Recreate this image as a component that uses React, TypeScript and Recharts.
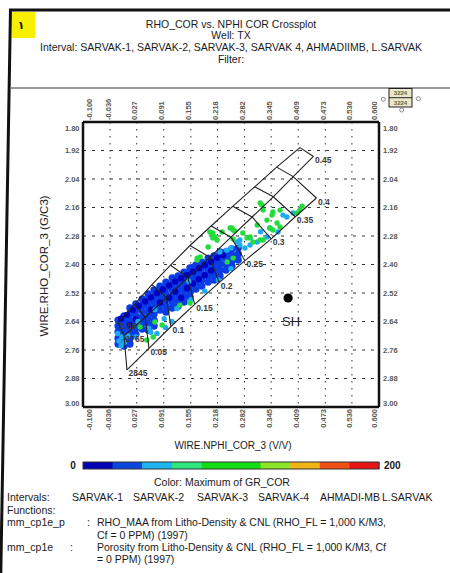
import React from 'react';
import { ScatterChart, Scatter, XAxis, YAxis, CartesianGrid } from 'recharts';

const FONT = "'Liberation Sans', Arial, Helvetica, sans-serif";

// axis ticks (NPHI in V/V, RHOB in G/C3)
const X_TICKS = [-0.1, -0.036, 0.027, 0.091, 0.155, 0.218, 0.282, 0.345, 0.409, 0.473, 0.536, 0.6];
const Y_TICKS = [1.8, 1.92, 2.04, 2.16, 2.28, 2.4, 2.52, 2.64, 2.76, 2.88, 3.0];

// density-neutron chart overlay (mm_cp1e)
const PORO_LABELS = ['0', '0.05', '0.1', '0.15', '0.2', '0.25', '0.3', '0.35', '0.4', '0.45'];
const SS_NPHI = [-0.017, 0.022, 0.063, 0.107, 0.153, 0.203, 0.254, 0.306, 0.358, 0.413];
const SS_RHOB = [2.645, 2.568, 2.485, 2.403, 2.32, 2.238, 2.155, 2.073, 1.99, 1.908];
const LS_NPHI = [-0.003, 0.047, 0.097, 0.148, 0.2, 0.25, 0.3, 0.35, 0.397, 0.445];
const LS_RHOB = [2.7, 2.622, 2.54, 2.455, 2.37, 2.285, 2.2, 2.115, 2.03, 1.945];
const DOL_NPHI = [0.004, 0.056, 0.108, 0.164, 0.222, 0.283, 0.345, 0.402, 0.452];
const DOL_RHOB = [2.844, 2.753, 2.661, 2.568, 2.476, 2.384, 2.292, 2.199, 2.12];
const MATRIX_LABELS = ['2.65', '2765', '2845'];

// crossplot points, grouped by GR colour bin
const BLUE_PTS: [number, number][] = [
  [-0.017, 2.634], [-0.017, 2.659], [-0.017, 2.684], [-0.017, 2.71], [-0.017, 2.735],
  [-0.003, 2.617], [-0.003, 2.642], [-0.003, 2.667], [-0.003, 2.693], [-0.003, 2.718], [-0.003, 2.743],
  [0.011, 2.583], [0.011, 2.608], [0.011, 2.634], [0.011, 2.659], [0.011, 2.684], [0.011, 2.71], [0.011, 2.735],
  [0.025, 2.566], [0.025, 2.592], [0.025, 2.617], [0.025, 2.642], [0.025, 2.667], [0.025, 2.693],
  [0.04, 2.545], [0.04, 2.571], [0.04, 2.596], [0.04, 2.621], [0.04, 2.646], [0.04, 2.672],
  [0.054, 2.524], [0.054, 2.549], [0.054, 2.575], [0.054, 2.6], [0.054, 2.625], [0.054, 2.651], [0.054, 2.676],
  [0.068, 2.507], [0.068, 2.533], [0.068, 2.558], [0.068, 2.583], [0.068, 2.608], [0.068, 2.634], [0.068, 2.659],
  [0.082, 2.491], [0.082, 2.516], [0.082, 2.541], [0.082, 2.566], [0.082, 2.592],
  [0.096, 2.474], [0.096, 2.499], [0.096, 2.524], [0.096, 2.549], [0.096, 2.575], [0.096, 2.6],
  [0.111, 2.457], [0.111, 2.482], [0.111, 2.507], [0.111, 2.533], [0.111, 2.558], [0.111, 2.583],
  [0.125, 2.448], [0.125, 2.474], [0.125, 2.499], [0.125, 2.524], [0.125, 2.549], [0.125, 2.575],
  [0.139, 2.432], [0.139, 2.457], [0.139, 2.482], [0.139, 2.507], [0.139, 2.533], [0.139, 2.558],
  [0.153, 2.415], [0.153, 2.44], [0.153, 2.465], [0.153, 2.491], [0.153, 2.516], [0.153, 2.537],
  [0.167, 2.402], [0.167, 2.427], [0.167, 2.453], [0.167, 2.478], [0.167, 2.503],
  [0.181, 2.39], [0.181, 2.415], [0.181, 2.44], [0.181, 2.465], [0.181, 2.491],
  [0.196, 2.373], [0.196, 2.398], [0.196, 2.423], [0.196, 2.448], [0.196, 2.474],
  [0.21, 2.364], [0.21, 2.39], [0.21, 2.415], [0.21, 2.44], [0.21, 2.465],
  [0.224, 2.347], [0.224, 2.373], [0.224, 2.398], [0.224, 2.423], [0.224, 2.448],
  [0.238, 2.347], [0.238, 2.373], [0.238, 2.398], [0.238, 2.423],
  [0.252, 2.335], [0.252, 2.36], [0.252, 2.385], [0.252, 2.406],
  [0.267, 2.331], [0.267, 2.356], [0.267, 2.381],
];

const DARK_PTS: [number, number][] = [
  [-0.01, 2.628], [0.004, 2.612], [0.018, 2.592], [0.032, 2.575], [0.047, 2.556], [0.061, 2.538],
  [0.075, 2.52], [0.089, 2.505], [0.104, 2.488], [0.118, 2.472], [0.132, 2.458], [0.146, 2.444],
  [0.16, 2.43], [0.174, 2.416], [0.188, 2.402], [0.203, 2.388], [0.217, 2.372], [0.231, 2.36],
  [0.118, 2.515], [0.132, 2.54], [0.104, 2.54], [0.146, 2.5], [0.16, 2.48], [0.174, 2.462],
  [0.188, 2.445], [0.203, 2.425], [0.082, 2.56], [0.061, 2.59], [0.025, 2.63], [0.011, 2.655],
];

const CYAN_PTS: [number, number][] = [
  [-0.018, 2.69], [-0.008, 2.705], [-0.015, 2.722], [-0.002, 2.728], [0.006, 2.7], [-0.01, 2.742],
  [0.025, 2.705], [0.055, 2.668], [0.092, 2.628], [0.122, 2.585], [0.155, 2.548], [0.188, 2.512],
  [0.22, 2.465], [0.25, 2.418],
  [0.03, 2.64], [0.07, 2.59], [0.15, 2.47],
  [0.373, 2.192], [0.397, 2.183], [0.342, 2.246], [0.361, 2.263], [0.295, 2.288], [0.312, 2.305],
  [0.271, 2.297], [0.335, 2.284], [0.382, 2.2], [0.264, 2.305], [0.271, 2.318], [0.295, 2.318],
  [0.224, 2.347], [0.283, 2.33], [0.25, 2.33], [0.24, 2.34], [0.32, 2.262],
  [0.075, 2.69], [0.06, 2.685], [0.095, 2.665], [0.11, 2.64],
];

const GREEN_PTS: [number, number][] = [
  [0.319, 2.141], [0.326, 2.171], [0.349, 2.179], [0.335, 2.213], [0.312, 2.234], [0.349, 2.255],
  [0.366, 2.242], [0.413, 2.171], [0.418, 2.154], [0.252, 2.246], [0.278, 2.267], [0.295, 2.284],
  [0.326, 2.297], [0.323, 2.149], [0.347, 2.192], [0.366, 2.171], [0.406, 2.183], [0.359, 2.225],
  [0.207, 2.267], [0.229, 2.263], [0.196, 2.326], [0.177, 2.368], [0.2, 2.263], [0.248, 2.246],
  [0.255, 2.255], [0.288, 2.288], [0.302, 2.305], [0.319, 2.297], [0.342, 2.246], [0.217, 2.297],
  [0.17, 2.373], [0.241, 2.389], [0.255, 2.373], [0.259, 2.259], [0.255, 2.293], [0.212, 2.284],
  [0.204, 2.269], [0.207, 2.288], [0.17, 2.381],
  [0.129, 2.571], [0.035, 2.663], [0.07, 2.642], [0.087, 2.655], [0.066, 2.705],
  [0.051, 2.718], [0.153, 2.562],
];

const SH_POINT = [{ x: 0.385, y: 2.541, label: 'SH' }];

// colour scale: Maximum of GR_COR, 0..200
const GR_MIN = 0;
const GR_MAX = 200;
const GR_COLORS = ['#0000b4', '#0a46dc', '#1eb4f0', '#2ee67e', '#14dc14', '#14dc14', '#8ce628', '#f0b414', '#f05014', '#e61414'];

const TITLE_LINES = [
  'RHO_COR vs. NPHI COR Crossplot',
  'Well: TX',
  'Interval: SARVAK-1, SARVAK-2, SARVAK-3, SARVAK 4, AHMADIIMB, L.SARVAK',
  'Filter:',
];
const INTERVALS = ['SARVAK-1', 'SARVAK-2', 'SARVAK-3', 'SARVAK-4', 'AHMADI-MB', 'L.SARVAK'];
const INTERVAL_X = [72, 133, 197, 258, 320, 382];

const LINE = '#222';
const toPts = (arr: [number, number][]) => arr.map(([x, y]) => ({ x, y }));

const ss = SS_NPHI.map((x, i) => ({ x, y: SS_RHOB[i] }));
const ls = LS_NPHI.map((x, i) => ({ x, y: LS_RHOB[i] }));
const dol = DOL_NPHI.map((x, i) => ({ x, y: DOL_RHOB[i] }));
const isoLines = PORO_LABELS.map((_, i) => [ss[i], ls[i], dol[i]].filter(Boolean));
const labelPts = [
  ...dol.map((p, i) => ({ ...p, label: i === 0 ? MATRIX_LABELS[2] : PORO_LABELS[i] })),
  { ...ls[0], label: MATRIX_LABELS[1] },
  { ...ss[0], label: MATRIX_LABELS[0] },
  { ...ls[9], label: PORO_LABELS[9] },
];

const Empty = () => <g />;
const dot = (r: number, fill: string) => (p: any) => <circle cx={p.cx} cy={p.cy} r={r} fill={fill} />;

const LabelShape = (p: any) => (
  <text x={p.cx + 1.5} y={p.cy + 3.5} dominantBaseline="central" fontSize={8.5} fontWeight={700}
    fill="#3a3a3a" fontFamily={FONT}>{p.payload.label}</text>
);

const ShShape = (p: any) => (
  <g>
    <circle cx={p.cx} cy={p.cy} r={4.6} fill="#000" />
    <text x={p.cx + 3} y={p.cy + 24} textAnchor="middle" dominantBaseline="central" fontSize={13}
      fill="#222" fontFamily={FONT}>{p.payload.label}</text>
  </g>
);

const tickStyle = { fontSize: 7.5, fontWeight: 700, fill: '#5a5a50', fontFamily: FONT };

const XTick = ({ x, payload, top }: any) => {
  const v = payload.value;
  let dx = -2;
  if (v === X_TICKS[0]) dx = 6;
  else if (v === X_TICKS[X_TICKS.length - 1]) dx = -5;
  const tx = x + dx;
  const ty = top ? 120 : 409;
  return (
    <text x={tx} y={ty} transform={`rotate(-90 ${tx} ${ty})`} textAnchor={top ? 'start' : 'end'}
      dominantBaseline="central" {...tickStyle}>{v.toFixed(3)}</text>
  );
};

const YTick = ({ y, payload, right }: any) => {
  const v = payload.value;
  let dy = 0;
  if (v === Y_TICKS[0]) dy = 6.5;
  else if (v === Y_TICKS[Y_TICKS.length - 1]) dy = -3.5;
  return (
    <text x={right ? 383 : 79.5} y={y + dy} textAnchor={right ? 'start' : 'end'}
      dominantBaseline="central" {...tickStyle}>{v.toFixed(2)}</text>
  );
};

const T = ({ x, y, children, anchor = 'start', size = 10.5, weight = 400, fill = '#1a1a1a', family = FONT }: any) => (
  <text x={x} y={y} textAnchor={anchor} dominantBaseline="central" fontSize={size} fontWeight={weight}
    fill={fill} fontFamily={family}>{children}</text>
);

const frameLine = { stroke: '#111', strokeWidth: 2.5 };

export default function App() {
  const segW = (379 - 83) / GR_COLORS.length;
  return (
    <div style={{ position: 'absolute', left: 0, top: 0, width: 450, height: 573, background: '#fff', overflow: 'hidden' }}>
      <div style={{ position: 'absolute', left: 0, top: 0 }}>
        <ScatterChart width={450} height={573} margin={{ top: 92, right: 31, bottom: 136, left: 43 }}>
          <CartesianGrid horizontal vertical={false} stroke="#333" strokeDasharray="3 6" />
          <CartesianGrid horizontal={false} vertical stroke="#333" strokeDasharray="1.5 5.5" />
          <XAxis type="number" dataKey="x" domain={[-0.1, 0.6]} ticks={X_TICKS} interval={0} allowDataOverflow
            height={30} axisLine={frameLine} tickLine={false} tick={(p: any) => <XTick {...p} />} />
          <XAxis xAxisId="top" orientation="top" type="number" dataKey="x" domain={[-0.1, 0.6]} ticks={X_TICKS}
            interval={0} allowDataOverflow height={30} axisLine={frameLine} tickLine={false}
            tick={(p: any) => <XTick {...p} top />} />
          <YAxis type="number" dataKey="y" domain={[1.8, 3.0]} reversed ticks={Y_TICKS} interval={0} allowDataOverflow
            width={40} axisLine={frameLine} tickLine={false} tick={(p: any) => <YTick {...p} />} />
          <YAxis yAxisId="right" orientation="right" type="number" dataKey="y" domain={[1.8, 3.0]} reversed
            ticks={Y_TICKS} interval={0} allowDataOverflow width={40} axisLine={frameLine} tickLine={false}
            tick={(p: any) => <YTick {...p} right />} />

          <Scatter data={toPts(BLUE_PTS)} shape={dot(3.7, '#0a3ce6')} isAnimationActive={false} />
          <Scatter data={toPts(DARK_PTS)} shape={dot(3.2, '#0000c0')} isAnimationActive={false} />
          <Scatter data={toPts(CYAN_PTS)} shape={dot(2.7, '#1eaaf0')} isAnimationActive={false} />
          <Scatter data={toPts(GREEN_PTS)} shape={dot(2.7, '#22dc3c')} isAnimationActive={false} />

          <Scatter data={ss} line={{ stroke: LINE, strokeWidth: 1.1 }} shape={Empty} isAnimationActive={false} />
          <Scatter data={ls} line={{ stroke: LINE, strokeWidth: 1.1 }} shape={Empty} isAnimationActive={false} />
          <Scatter data={dol} line={{ stroke: LINE, strokeWidth: 1.1 }} shape={Empty} isAnimationActive={false} />
          {isoLines.map((pts, i) => (
            <Scatter key={'iso' + i} data={pts} line={{ stroke: LINE, strokeWidth: 1.1 }} shape={Empty}
              isAnimationActive={false} />
          ))}
          <Scatter data={labelPts} shape={LabelShape} isAnimationActive={false} />
          <Scatter data={SH_POINT} shape={ShShape} isAnimationActive={false} />
        </ScatterChart>
      </div>

      <svg width={450} height={573} style={{ position: 'absolute', left: 0, top: 0, pointerEvents: 'none' }}>
        {/* page frame */}
        <line x1={10.5} y1={9} x2={0.8} y2={573} stroke="#111" strokeWidth={3} />
        <line x1={9} y1={10} x2={450} y2={10} stroke="#111" strokeWidth={3} />
        <line x1={10} y1={88} x2={450} y2={88} stroke="#777" strokeWidth={1.5} />
        <rect x={12} y={12} width={23} height={26} fill="#f8f000" />
        <T x={21} y={25} anchor="middle" size={11} weight={700} fill="#111" family="'DejaVu Sans', sans-serif">١</T>

        {/* title */}
        {TITLE_LINES.map((s, i) => (
          <T key={s} x={231} y={[24, 35, 47, 58.5][i]} anchor="middle">{s}</T>
        ))}

        {/* legend box */}
        <rect x={389} y={88.5} width={23} height={18.5} fill="#ece7c9" stroke="#222" strokeWidth={1} />
        <line x1={389} y1={97.7} x2={412} y2={97.7} stroke="#222" strokeWidth={1} />
        <T x={400.5} y={93.3} anchor="middle" size={6} weight={700} fill="#6b6030">3224</T>
        <T x={400.5} y={102.5} anchor="middle" size={6} weight={700} fill="#6b6030">3224</T>
        <circle cx={383.3} cy={99.3} r={2} fill="none" stroke="#888" />
        <circle cx={418.3} cy={98.7} r={2} fill="none" stroke="#888" />
        <circle cx={401.7} cy={110} r={2} fill="none" stroke="#888" />

        {/* axis titles */}
        <text x={44} y={266} transform="rotate(-90 44 266)" textAnchor="middle" dominantBaseline="central"
          fontSize={11.5} fill="#222" fontFamily={FONT}>WIRE.RHO_COR_3 (G/C3)</text>
        <T x={233} y={445.5} anchor="middle" size={10}>WIRE.NPHI_COR_3 (V/V)</T>

        {/* colour bar */}
        {GR_COLORS.map((c, i) => (
          <rect key={i} x={83 + i * segW} y={462} width={segW + 0.5} height={7} fill={c} />
        ))}
        <rect x={83} y={462} width={296} height={7} fill="none" stroke="#333" strokeWidth={1} />
        <T x={73} y={465.5} anchor="middle" size={10} weight={700}>{GR_MIN}</T>
        <T x={384} y={465.5} size={10} weight={700}>{GR_MAX}</T>
        <T x={222} y={481.5} anchor="middle">Color: Maximum of GR_COR</T>

        {/* intervals & functions */}
        <T x={7} y={497}>Intervals:</T>
        {INTERVALS.map((s, i) => (
          <T key={s} x={INTERVAL_X[i]} y={497}>{s}</T>
        ))}
        <T x={7} y={510}>Functions:</T>
        <T x={7} y={522}>mm_cp1e_p</T>
        <T x={87} y={522}>:</T>
        <T x={97} y={522}>RHO_MAA from Litho-Density &amp; CNL (RHO_FL = 1,000 K/M3,</T>
        <T x={97} y={535}>Cf = 0 PPM) (1997)</T>
        <T x={7} y={547}>mm_cp1e</T>
        <T x={70} y={547}>:</T>
        <T x={97} y={547}>Porosity from Litho-Density &amp; CNL (RHO_FL = 1,000 K/M3, Cf</T>
        <T x={97} y={558.5}>= 0 PPM) (1997)</T>
      </svg>
    </div>
  );
}
